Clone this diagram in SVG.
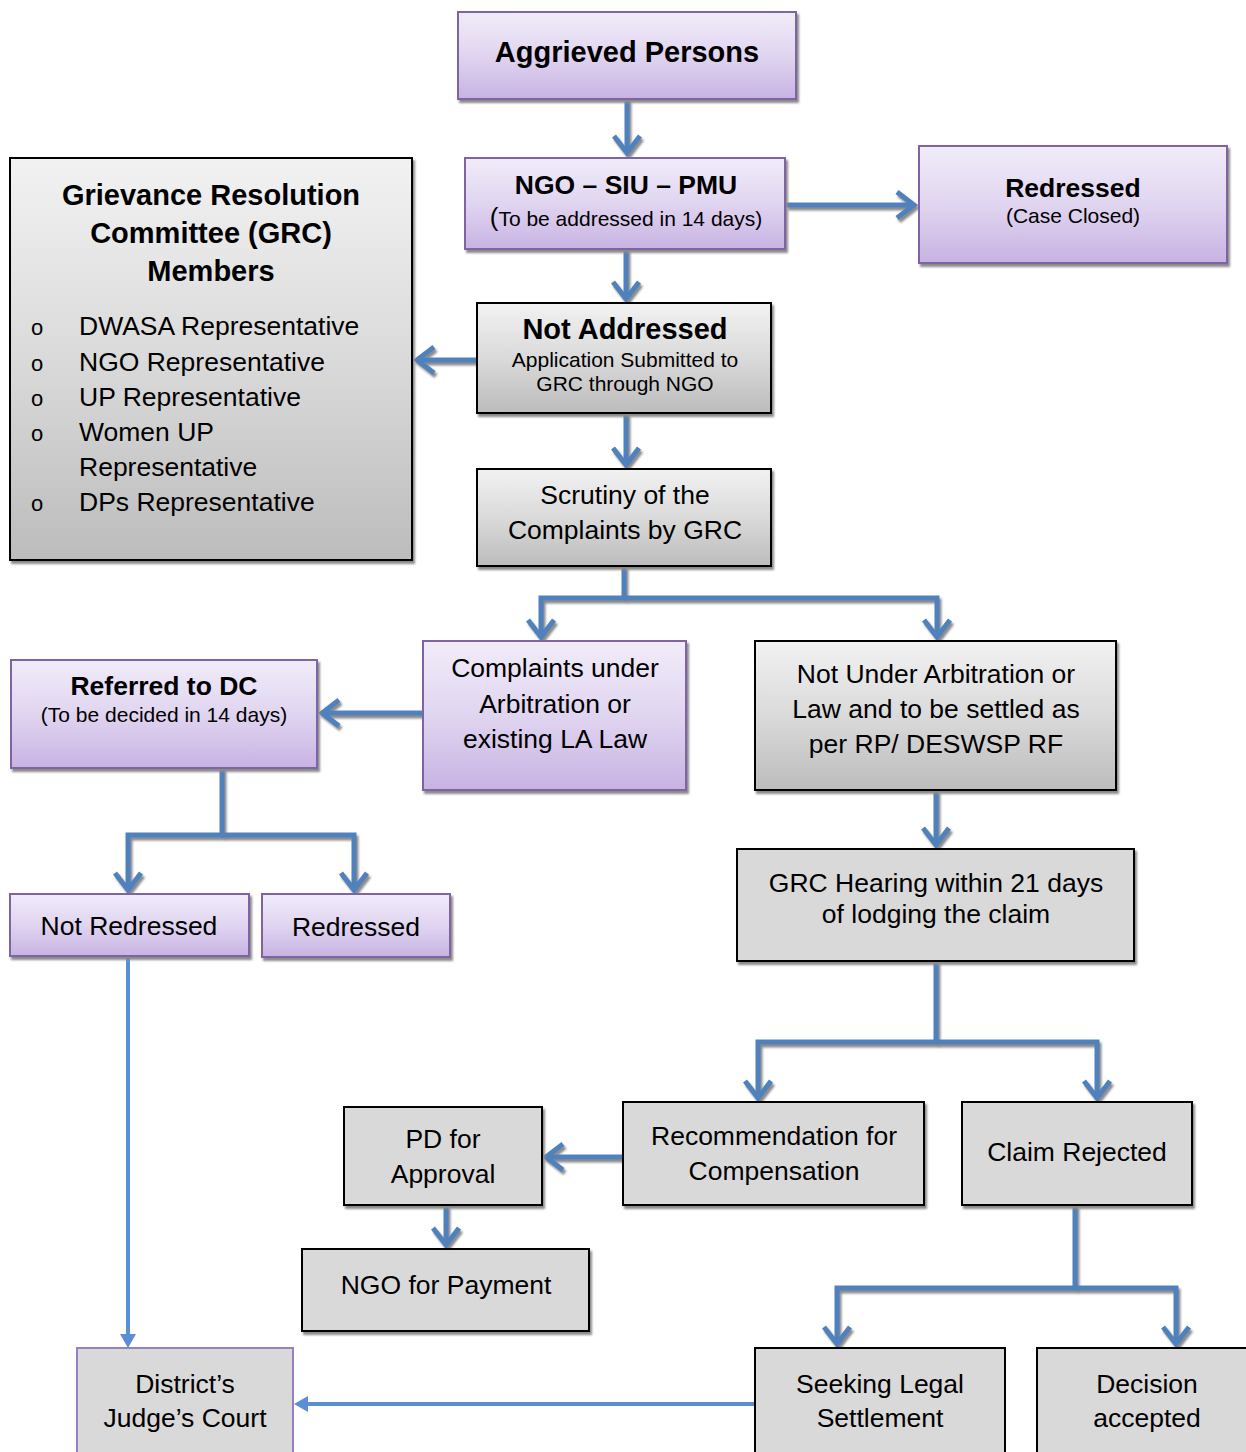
<svg xmlns="http://www.w3.org/2000/svg" width="1246" height="1452" viewBox="0 0 1246 1452">
<defs>
<linearGradient id="gPurple" x1="0" y1="0" x2="0" y2="1">
<stop offset="0" stop-color="#f1ecf9"/>
<stop offset="0.5" stop-color="#e0d5f0"/>
<stop offset="1" stop-color="#c7b3e3"/>
</linearGradient>
<linearGradient id="gGray" x1="0" y1="0" x2="0" y2="1">
<stop offset="0" stop-color="#f2f2f2"/>
<stop offset="0.5" stop-color="#dadada"/>
<stop offset="1" stop-color="#bcbcbc"/>
</linearGradient>
<filter id="shadow" x="-5%" y="-5%" width="115%" height="120%">
<feDropShadow dx="2" dy="3" stdDeviation="0.8" flood-color="#8a8a8a" flood-opacity="1"/>
</filter>
<marker id="chev" markerUnits="userSpaceOnUse" markerWidth="40" markerHeight="40" viewBox="-30 -20 40 40" refX="0" refY="0" orient="auto" overflow="visible">
<path d="M-17 -13 L0 0 L-17 13" fill="none" stroke="#4f81bd" stroke-width="5" stroke-linejoin="miter"/>
</marker>
<marker id="tri" markerUnits="userSpaceOnUse" markerWidth="30" markerHeight="30" viewBox="-5 -15 30 30" refX="0" refY="0" orient="auto" overflow="visible">
<path d="M14 0 L0 -8 L0 8 Z" fill="#5a8fd6"/>
</marker>
<style>
.p{fill:url(#gPurple);stroke:#8064a2;stroke-width:2;filter:url(#shadow)}
.g{fill:url(#gGray);stroke:#000;stroke-width:2;filter:url(#shadow)}
.f{fill:#d9d9d9;stroke:#000;stroke-width:2;filter:url(#shadow)}
.fp{fill:#d9d9d9;stroke:#9a7fc0;stroke-width:2}
.fn{fill:#d9d9d9;stroke:#000;stroke-width:2}
text{font-family:"Liberation Sans",Arial,sans-serif;fill:#000;text-anchor:middle}
.t{font-size:26.5px}
.b{font-size:26.5px;font-weight:bold}
.bl{font-size:29px;font-weight:bold}
.s{font-size:21px}
.li{font-size:26.5px;text-anchor:start}
.bu{font-size:22px;text-anchor:start}
.c{fill:none;stroke:#4f81bd;stroke-width:5;marker-end:url(#chev)}
.cl{fill:none;stroke:#5a8fd6;stroke-width:4;marker-end:url(#tri)}
</style>
</defs>
<rect width="1246" height="1452" fill="#fff"/>

<g id="connectors">
<g filter="url(#shadow)">
<path class="c" d="M627 99 V153"/>
<path class="c" d="M786 205 H914"/>
<path class="c" d="M626 249 V299"/>
<path class="c" d="M477 360 H417"/>
<path class="c" d="M626 413 V465"/>
<path class="c" d="M624 566 V598 H541 V637"/>
<path class="c" d="M624 598 H937 V637"/>
<path class="c" d="M423 713 H322"/>
<path class="c" d="M222 768 V835 H128 V890"/>
<path class="c" d="M222 835 H354 V890"/>
<path class="c" d="M936 790 V845"/>
<path class="c" d="M936 961 V1042 H758 V1098"/>
<path class="c" d="M936 1042 H1097 V1098"/>
<path class="c" d="M623 1157 H546"/>
<path class="c" d="M446 1205 V1245"/>
<path class="c" d="M1075 1205 V1288 H837 V1344"/>
<path class="c" d="M1075 1288 H1176 V1344"/>
</g>
<path class="cl" d="M128 957 V1334"/>
<path class="cl" d="M755 1404 H308"/>
</g>

<g id="aggrieved">
<rect class="p" x="458" y="12" width="338" height="87"/>
<text class="bl" x="627" y="62">Aggrieved Persons</text>
</g>

<g id="ngo-siu-pmu">
<rect class="p" x="465" y="158" width="320" height="91"/>
<text class="b" x="626" y="194">NGO – SIU – PMU</text>
<text class="s" x="626" y="226"><tspan font-size="26px">(</tspan>To be addressed in 14 days)</text>
</g>

<g id="redressed-closed">
<rect class="p" x="919" y="146" width="308" height="117"/>
<text class="b" x="1073" y="197">Redressed</text>
<text class="s" x="1073" y="223">(Case Closed)</text>
</g>

<g id="grc-members">
<rect class="g" x="10" y="158" width="402" height="402"/>
<text class="bl" x="211" y="205">Grievance Resolution</text>
<text class="bl" x="211" y="243">Committee (GRC)</text>
<text class="bl" x="211" y="281">Members</text>
<text class="bu" x="31" y="335">o</text>
<text class="li" x="79" y="335">DWASA Representative</text>
<text class="bu" x="31" y="371">o</text>
<text class="li" x="79" y="371">NGO Representative</text>
<text class="bu" x="31" y="406">o</text>
<text class="li" x="79" y="406">UP Representative</text>
<text class="bu" x="31" y="441">o</text>
<text class="li" x="79" y="441">Women UP</text>
<text class="li" x="79" y="476">Representative</text>
<text class="bu" x="31" y="511">o</text>
<text class="li" x="79" y="511">DPs Representative</text>
</g>

<g id="not-addressed">
<rect class="g" x="477" y="303" width="294" height="110"/>
<text class="bl" x="625" y="339">Not Addressed</text>
<text class="s" x="625" y="367">Application Submitted to</text>
<text class="s" x="625" y="391">GRC through NGO</text>
</g>

<g id="scrutiny">
<rect class="g" x="477" y="469" width="294" height="97"/>
<text class="t" x="625" y="504">Scrutiny of the</text>
<text class="t" x="625" y="539">Complaints by GRC</text>
</g>

<g id="complaints-arbitration">
<rect class="p" x="423" y="641" width="263" height="149"/>
<text class="t" x="555" y="677">Complaints under</text>
<text class="t" x="555" y="713">Arbitration or</text>
<text class="t" x="555" y="748">existing LA Law</text>
</g>

<g id="not-under-arbitration">
<rect class="g" x="755" y="641" width="361" height="149"/>
<text class="t" x="936" y="683">Not Under Arbitration or</text>
<text class="t" x="936" y="718">Law and to be settled as</text>
<text class="t" x="936" y="753">per RP/ DESWSP RF</text>
</g>

<g id="referred-dc">
<rect class="p" x="11" y="660" width="306" height="108"/>
<text class="b" x="164" y="695">Referred to DC</text>
<text class="s" x="164" y="722">(To be decided in 14 days)</text>
</g>

<g id="not-redressed">
<rect class="p" x="10" y="894" width="239" height="62"/>
<text class="t" x="129" y="935">Not Redressed</text>
</g>

<g id="redressed">
<rect class="p" x="262" y="894" width="188" height="63"/>
<text class="t" x="356" y="936">Redressed</text>
</g>

<g id="grc-hearing">
<rect class="f" x="737" y="849" width="397" height="112"/>
<text class="t" x="936" y="892">GRC Hearing within 21 days</text>
<text class="t" x="936" y="923">of lodging the claim</text>
</g>

<g id="recommendation">
<rect class="f" x="623" y="1102" width="301" height="103"/>
<text class="t" x="774" y="1145">Recommendation for</text>
<text class="t" x="774" y="1180">Compensation</text>
</g>

<g id="claim-rejected">
<rect class="f" x="962" y="1102" width="230" height="103"/>
<text class="t" x="1077" y="1161">Claim Rejected</text>
</g>

<g id="pd-approval">
<rect class="f" x="344" y="1107" width="198" height="98"/>
<text class="t" x="443" y="1148">PD for</text>
<text class="t" x="443" y="1183">Approval</text>
</g>

<g id="ngo-payment">
<rect class="f" x="302" y="1249" width="287" height="82"/>
<text class="t" x="446" y="1294">NGO for Payment</text>
</g>

<g id="district-court">
<rect class="fp" x="77" y="1348" width="216" height="120"/>
<text class="t" x="185" y="1393">District’s</text>
<text class="t" x="185" y="1427">Judge’s Court</text>
</g>

<g id="seeking-legal">
<rect class="fn" x="755" y="1348" width="250" height="120"/>
<text class="t" x="880" y="1393">Seeking Legal</text>
<text class="t" x="880" y="1427">Settlement</text>
</g>

<g id="decision-accepted">
<rect class="fn" x="1037" y="1348" width="220" height="120"/>
<text class="t" x="1147" y="1393">Decision</text>
<text class="t" x="1147" y="1427">accepted</text>
</g>
</svg>
